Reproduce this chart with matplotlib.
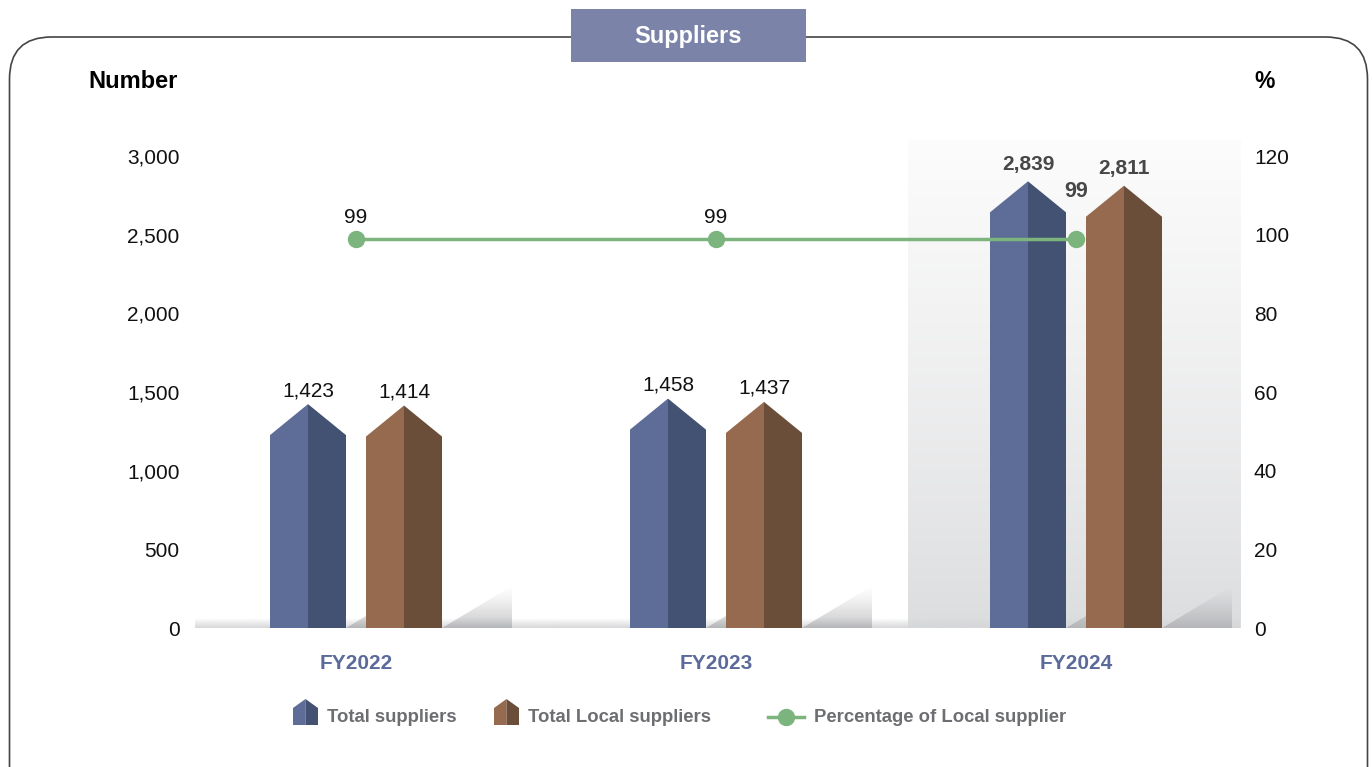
import numpy as np
import matplotlib
matplotlib.use('Agg')
import matplotlib.pyplot as plt
from matplotlib.patches import Polygon, FancyBboxPatch, Rectangle
from matplotlib.colors import to_rgb

# ---------------- data ----------------
years = ['FY2022', 'FY2023', 'FY2024']
total_suppliers = [1423, 1458, 2839]
local_suppliers = [1414, 1437, 2811]
pct_local = [99, 99, 99]
left_ticks = [0, 500, 1000, 1500, 2000, 2500, 3000]
right_ticks = [0, 20, 40, 60, 80, 100, 120]
series_names = ['Total suppliers', 'Total Local suppliers', 'Percentage of Local supplier']

# ---------------- style ----------------
plt.rcParams['font.family'] = ['Liberation Sans', 'DejaVu Sans']
BLUE_L, BLUE_D = '#5d6d98', '#435272'
BROWN_L, BROWN_D = '#966a4e', '#6b4e3a'
GREEN = '#7cb47e'
CAT_COLOR = '#5b6a9b'
LEG_TEXT = '#6d6e71'

W, H = 1372, 767
fig = plt.figure(figsize=(W / 100, H / 100), dpi=100)

# background / frame layer in pixel coordinates
bg = fig.add_axes([0, 0, 1, 1])
bg.set_xlim(0, W)
bg.set_ylim(H, 0)
bg.axis('off')
bg.add_patch(FancyBboxPatch((9.5, 37), 1358, 800,
                            boxstyle='round,pad=0,rounding_size=42',
                            fc='none', ec='#444444', lw=1.2, zorder=1))
bg.add_patch(Rectangle((571, 9), 235, 53, fc='#7b84a8', ec='none', zorder=3))
bg.text(688.5, 36, 'Suppliers', color='white', fontsize=17, fontweight='bold',
        ha='center', va='center', zorder=4)
bg.text(88, 81, 'Number', fontsize=17, fontweight='bold', ha='left', va='center')
bg.text(1265, 81, '%', fontsize=16.5, fontweight='bold', ha='center', va='center')

# legend (pixel coordinates)
def legend_house(x0, light, dark):
    w, bot, sh, pk = 25, 725, 708, 699
    xm = x0 + w / 2
    bg.add_patch(Polygon([(x0, bot), (x0, sh), (xm, pk), (xm, bot)], fc=light, ec='none'))
    bg.add_patch(Polygon([(xm, bot), (xm, pk), (x0 + w, sh), (x0 + w, bot)], fc=dark, ec='none'))

legend_house(293, BLUE_L, BLUE_D)
bg.text(327, 717, series_names[0], fontsize=13.3, fontweight='bold', color=LEG_TEXT,
        ha='left', va='center')
legend_house(494, BROWN_L, BROWN_D)
bg.text(528, 717, series_names[1], fontsize=13.3, fontweight='bold', color=LEG_TEXT,
        ha='left', va='center')
bg.plot([768, 804], [717, 717], color=GREEN, lw=2.5)
bg.plot([786], [717], 'o', color=GREEN, ms=11.5)
bg.text(814, 717, series_names[2], fontsize=13.3, fontweight='bold', color=LEG_TEXT,
        ha='left', va='center')

# ---------------- main axes ----------------
ax = fig.add_axes([195 / W, 1 - 628 / H, 1045 / W, 472 / H])
ax.patch.set_visible(False)
YMAX = left_ticks[-1]
px_x = 1 / 360.0           # data units per pixel in x
px_y = YMAX / 472.0        # data units per pixel in y
x = np.arange(len(years))
xlim = (-161 * px_x, 2 + 164 * px_x)

offset = 48 * px_x
bar_w = 76 * px_x
drop = 31 * px_y

# FY2024 highlight panel (vertical gradient)
grad = (np.linspace(0, 1, 256) ** 0.8)[:, None]
top_c, bot_c = np.array(to_rgb('#fcfcfc')), np.array(to_rgb('#dbdcde'))
panel = (bot_c * (1 - grad) + top_c * grad)[:, None, :]
panel = np.repeat(panel, 2, axis=1)
ax.imshow(panel, extent=[2 - 168 * px_x, xlim[1], 0, YMAX + 16 * px_y],
          origin='lower', aspect='auto', zorder=0, clip_on=False, interpolation='bilinear')

# floor band
band = np.zeros((64, 2, 4))
band[:, :, :3] = to_rgb('#d6d7d9')
band[:, :, 3] = np.linspace(1, 0, 64)[:, None]
ax.imshow(band, extent=[xlim[0], xlim[1], 0, 10 * px_y], origin='lower',
          aspect='auto', zorder=1, interpolation='bilinear')

def shadow(xr):
    sw, sh = 70 * px_x, 42 * px_y
    tri = Polygon([(xr, 0), (xr + sw, sh), (xr + sw, 0)], transform=ax.transData)
    g = np.zeros((64, 2, 4))
    g[:, :, :3] = to_rgb('#9a9b9e')
    g[:, :, 3] = (np.linspace(0.6, 0.0, 64) ** 1.2)[:, None]
    im = ax.imshow(g, extent=[xr, xr + sw, 0, sh], origin='lower', aspect='auto',
                   zorder=2, interpolation='bilinear')
    im.set_clip_path(tri)

def house(xc, val, light, dark):
    hw = bar_w / 2
    sh = val - drop
    ax.add_patch(Polygon([(xc - hw, 0), (xc - hw, sh), (xc, val), (xc, 0)],
                         fc=light, ec='none', zorder=3))
    ax.add_patch(Polygon([(xc, 0), (xc, val), (xc + hw, sh), (xc + hw, 0)],
                         fc=dark, ec='none', zorder=3))

for i in range(len(years)):
    xb, xl = x[i] - offset, x[i] + offset
    shadow(xb + bar_w / 2)
    shadow(xl + bar_w / 2)
    house(xb, total_suppliers[i], BLUE_L, BLUE_D)
    house(xl, local_suppliers[i], BROWN_L, BROWN_D)
    last = i == len(years) - 1
    for xc, v in ((xb, total_suppliers[i]), (xl, local_suppliers[i])):
        ax.annotate(f'{v:,}', (xc, v), xytext=(0, 8.4 if last else 5.8),
                    textcoords='offset points', ha='center', va='baseline',
                    fontsize=15, fontweight='bold' if last else 'normal',
                    color='#474747' if last else '#111111', zorder=6)

ax.set_xlim(*xlim)
ax.set_ylim(0, YMAX)
ax.set_yticks(left_ticks)
ax.set_yticklabels([f'{t:,}' for t in left_ticks])
ax.set_xticks(x)
ax.set_xticklabels(years, fontweight='bold', color=CAT_COLOR)
ax.tick_params(axis='y', length=0, labelsize=15, pad=11, labelcolor='#111111')
ax.tick_params(axis='x', length=0, labelsize=15, pad=19)
for s in ax.spines.values():
    s.set_visible(False)

# ---------------- percentage axis ----------------
ax2 = ax.twinx()
ax2.patch.set_visible(False)
ax2.set_ylim(0, right_ticks[-1])
ax2.set_yticks(right_ticks)
ax2.tick_params(axis='y', length=0, labelsize=15, pad=10, labelcolor='#111111')
for s in ax2.spines.values():
    s.set_visible(False)
ax2.plot(x, pct_local, color=GREEN, lw=2.5, marker='o', ms=11.5, zorder=5)
for i, v in enumerate(pct_local):
    last = i == len(years) - 1
    ax2.annotate(f'{v}', (x[i], v), xytext=(0, 29.7 if last else 11.5),
                 textcoords='offset points', ha='center', va='baseline',
                 fontsize=15.5 if last else 15, fontweight='bold' if last else 'normal',
                 color='#474747' if last else '#111111')
ax2.set_xlim(*xlim)

fig.savefig('out.png', dpi=100)
